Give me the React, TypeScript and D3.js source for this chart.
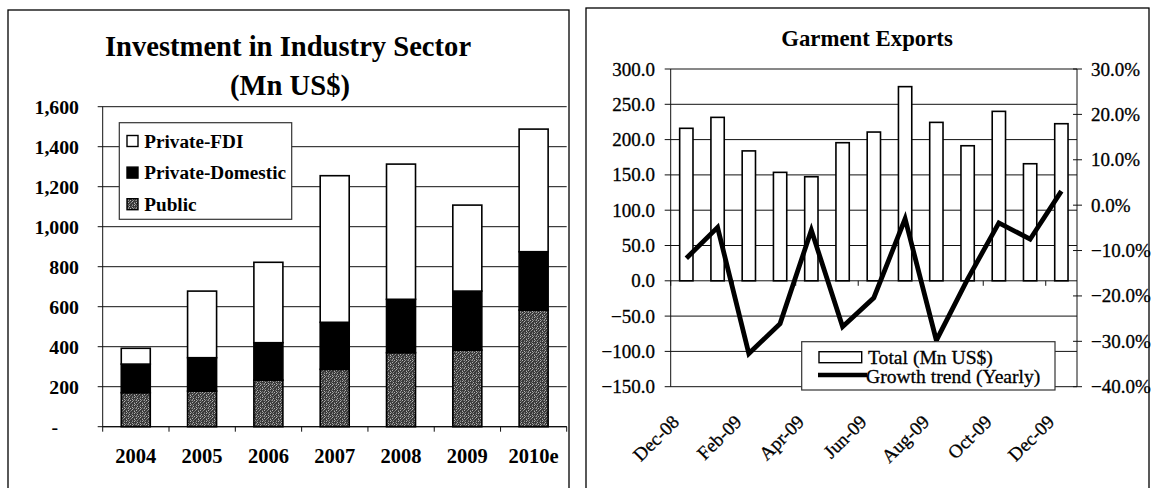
import React from "react";
import * as d3 from "d3";

// ---------- Left chart data ----------
const years = ["2004", "2005", "2006", "2007", "2008", "2009", "2010e"];
const publicInv = [170, 178, 233, 287, 370, 383, 583];
const privateDomestic = [143, 167, 187, 235, 267, 295, 292];
const privateFDI = [79, 333, 402, 733, 676, 430, 613];
const leftTicks = [0, 200, 400, 600, 800, 1000, 1200, 1400, 1600];
const seriesNames = ["Private-FDI", "Private-Domestic", "Public"];

// ---------- Right chart data ----------
const months = [
  "Dec-08", "Jan-09", "Feb-09", "Mar-09", "Apr-09", "May-09", "Jun-09",
  "Jul-09", "Aug-09", "Sep-09", "Oct-09", "Nov-09", "Dec-09",
];
const exportsTotal = [216, 231.5, 184, 153.6, 147.4, 195.6, 210.7, 275, 224.4, 191.3, 240, 165.8, 222.5];
const growthPct = [-11.7, -4.9, -32.7, -26.1, -5.5, -26.8, -20.4, -3.0, -29.8, -16.3, -3.9, -7.5, 3.1];
const rightLeftTicks = [-150, -100, -50, 0, 50, 100, 150, 200, 250, 300];
const rightRightTicks = [-40, -30, -20, -10, 0, 10, 20, 30];

const SERIF = "'Liberation Serif', 'Times New Roman', serif";

// deterministic speckle texture for the "Public" fill
const SPECKLE = [
  "a.b..a.c",
  ".c..b...",
  "b..a..c.",
  "..c...b.",
  ".a..c..a",
  "c...a.b.",
  ".b.c....",
  "a...b.c.",
];
const SHADE: Record<string, string> = { a: "#8c8c8c", b: "#b4b4b4", c: "#6e6e6e" };

function LeftChart() {
  const x0 = 102.7, x1 = 566.7, yTop = 106.7, yBot = 426.7;
  const x = d3.scaleBand<string>().domain(years).range([x0, x1]).paddingInner(0.5625).paddingOuter(0.28);
  const y = d3.scaleLinear().domain([0, 1600]).range([yBot, yTop]);
  const stackData = years.map((yr, i) => ({ yr, Public: publicInv[i], "Private-Domestic": privateDomestic[i], "Private-FDI": privateFDI[i] }));
  const stack = d3.stack<any>().keys(["Public", "Private-Domestic", "Private-FDI"])(stackData);
  const fills: Record<string, string> = { Public: "url(#speckle)", "Private-Domestic": "#000", "Private-FDI": "#fff" };
  const fmt = d3.format(",");
  return (
    <g>
      <rect x={8} y={10} width={561} height={500} fill="#fff" stroke="#000" strokeWidth={1.3} />
      <text x={288} y={56} textAnchor="middle" fontFamily={SERIF} fontWeight="bold" fontSize={28.6}>Investment in Industry Sector</text>
      <text x={290} y={95} textAnchor="middle" fontFamily={SERIF} fontWeight="bold" fontSize={28.6}>(Mn US$)</text>
      {leftTicks.map((t) => (
        <g key={t}>
          <line x1={x0 - 5} x2={x1} y1={y(t)} y2={y(t)} stroke="#111" strokeWidth={1} />
          <text x={t === 0 ? 58 : 79} y={y(t) + 6.8} textAnchor="end" fontFamily={SERIF} fontWeight="bold" fontSize={19.8}>
            {t === 0 ? "-" : fmt(t)}
          </text>
        </g>
      ))}
      <line x1={x0} x2={x0} y1={yTop} y2={yBot} stroke="#111" strokeWidth={1} />
      <line x1={x0} x2={x1} y1={yBot} y2={yBot} stroke="#111" strokeWidth={1.3} />
      {years.map((yr, i) => (
        <line key={"tk" + i} x1={x0 + i * x.step()} x2={x0 + i * x.step()} y1={yBot} y2={yBot + 5} stroke="#111" strokeWidth={1} />
      ))}
      <line x1={x1} x2={x1} y1={yBot} y2={yBot + 5} stroke="#111" strokeWidth={1} />
      {stack.map((s) =>
        s.map((d, i) => (
          <rect key={s.key + i} x={x(years[i])!} width={x.bandwidth()} y={y(d[1])} height={y(d[0]) - y(d[1])}
            fill={fills[s.key]} stroke="#000" strokeWidth={1.6} />
        ))
      )}
      {years.map((yr) => (
        <text key={yr} x={x(yr)! + x.bandwidth() / 2} y={463} textAnchor="middle" fontFamily={SERIF} fontWeight="bold" fontSize={20.5}>{yr}</text>
      ))}
      {/* legend */}
      <rect x={119.3} y={122.7} width={172.4} height={96.6} fill="#fff" stroke="#333" strokeWidth={1.2} />
      {seriesNames.map((n, i) => (
        <g key={n}>
          <rect x={127} y={135.5 + i * 31.6} width={11} height={11} fill={fills[n]} stroke="#000" strokeWidth={1.4} />
          <text x={144.3} y={147.5 + i * 31.6} fontFamily={SERIF} fontWeight="bold" fontSize={19.2}>{n}</text>
        </g>
      ))}
    </g>
  );
}

function RightChart() {
  const x0 = 670.7, x1 = 1077, yTop = 69, yBot = 386.7;
  const x = d3.scaleBand<string>().domain(months).range([x0, x1]).paddingInner(0.574).paddingOuter(0.287);
  const y = d3.scaleLinear().domain([-150, 300]).range([yBot, yTop]);
  const y2 = d3.scaleLinear().domain([-40, 30]).range([yBot, yTop]);
  const line = d3.line<number>().x((_, i) => x(months[i])! + x.bandwidth() / 2).y((d) => y2(d));
  const txt = { fontFamily: SERIF, fontSize: 19, stroke: "#000", strokeWidth: 0.3 } as const;
  return (
    <g>
      <rect x={586} y={8} width={563} height={500} fill="#fff" stroke="#000" strokeWidth={1.3} />
      <text x={867} y={46} textAnchor="middle" fontFamily={SERIF} fontWeight="bold" fontSize={22.8}>Garment Exports</text>
      {rightLeftTicks.map((t) => (
        <g key={t}>
          <line x1={x0 - 6} x2={x1} y1={y(t)} y2={y(t)} stroke="#111" strokeWidth={1} />
          <text x={655} y={y(t) + 6.5} textAnchor="end" {...txt}>{d3.format(".1f")(t)}</text>
        </g>
      ))}
      {rightRightTicks.map((t) => (
        <g key={"r" + t}>
          <line x1={x1 - 4} x2={x1 + 5} y1={y2(t)} y2={y2(t)} stroke="#111" strokeWidth={1} />
          <text x={1091} y={y2(t) + 6.5} {...txt}>{d3.format(".1f")(t) + "%"}</text>
        </g>
      ))}
      <line x1={x0} x2={x0} y1={yTop} y2={yBot} stroke="#111" strokeWidth={1} />
      <line x1={x1} x2={x1} y1={yTop} y2={yBot} stroke="#111" strokeWidth={1} />
      {months.map((m, i) => (i % 2 === 0 ? (
        <line key={"t" + m} x1={x0 + i * x.step()} x2={x0 + i * x.step()} y1={y(0)} y2={y(0) + 5} stroke="#111" strokeWidth={1} />
      ) : null))}
      {exportsTotal.map((v, i) => (
        <rect key={"b" + i} x={x(months[i])!} width={x.bandwidth()} y={y(v)} height={y(0) - y(v)} fill="#fff" stroke="#000" strokeWidth={1.6} />
      ))}
      <path d={line(growthPct)!} fill="none" stroke="#000" strokeWidth={4.8} strokeLinejoin="miter" />
      {months.map((m, i) => (i % 2 === 0 ? (
        <text key={"l" + m} transform={`translate(${x(m)! + x.bandwidth() / 2 - 6},423) rotate(-45)`} textAnchor="end" {...txt}>{m}</text>
      ) : null))}
      {/* legend */}
      <rect x={801.7} y={341.7} width={253.3} height={48.3} fill="#fff" stroke="#333" strokeWidth={1.2} />
      <rect x={819} y={351.7} width={42.7} height={11} fill="#fff" stroke="#000" strokeWidth={1.4} />
      <text x={868} y={363.5} {...txt} fontSize={19.6}>Total (Mn US$)</text>
      <line x1={818} x2={867} y1={375} y2={375} stroke="#000" strokeWidth={4.5} />
      <text x={866} y={382.5} {...txt} fontSize={19.6}>Growth trend (Yearly)</text>
    </g>
  );
}

export default function App() {
  return (
    <svg width={1153} height={488} style={{ position: "absolute", left: 0, top: 0, background: "#fff" }}>
      <defs>
        <pattern id="speckle" width={8} height={8} patternUnits="userSpaceOnUse">
          <rect width={8} height={8} fill="#3a3a3a" />
          {SPECKLE.flatMap((row, r) =>
            row.split("").map((ch, c) => (SHADE[ch] ? <rect key={r + "-" + c} x={c} y={r} width={1} height={1} fill={SHADE[ch]} /> : null))
          )}
        </pattern>
      </defs>
      <rect width={1153} height={488} fill="#fff" />
      <LeftChart />
      <RightChart />
    </svg>
  );
}
